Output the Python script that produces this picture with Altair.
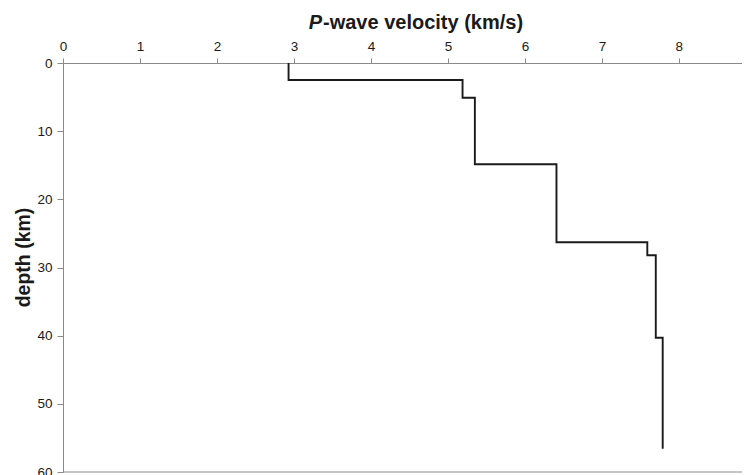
import altair as alt
import pandas as pd

# Layered P-wave velocity model (km/s) with layer top / bottom depths (km)
velocity = [2.93, 5.19, 5.35, 6.41, 7.59, 7.70, 7.79]
layer_top = [0.0, 2.5, 5.1, 14.85, 26.3, 28.2, 40.3]
layer_bottom = [2.5, 5.1, 14.85, 26.3, 28.2, 40.3, 56.6]

x_ticks = [0, 1, 2, 3, 4, 5, 6, 7, 8]
y_ticks = [0, 10, 20, 30, 40, 50, 60]

title_italic = ["P"]
title_rest = ["-wave velocity (km/s)"]

rows = []
k = 0
for v, t, b in zip(velocity, layer_top, layer_bottom):
    rows.append({"v": v, "d": t, "o": k})
    k += 1
    rows.append({"v": v, "d": b, "o": k})
    k += 1
df = pd.DataFrame(rows)

FONT = "Liberation Sans"
AX = "#8a8a8a"
TXT = "#1a1a1a"

xscale = alt.Scale(domain=[0, 8.82], nice=False, zero=False)
yscale = alt.Scale(domain=[0, 60], reverse=True, nice=False, zero=False)

line = alt.Chart(df).mark_line(color=TXT, strokeWidth=1.9).encode(
    x=alt.X(
        "v:Q",
        scale=xscale,
        axis=alt.Axis(
            orient="top", values=x_ticks, title=None, grid=False,
            labelFontSize=13.5, labelColor=TXT, labelFont=FONT, labelPadding=5,
            tickSize=5, tickColor=AX, domainColor=AX, labelFlush=False,
        ),
    ),
    y=alt.Y(
        "d:Q",
        scale=yscale,
        axis=alt.Axis(
            values=y_ticks, title="depth (km)", grid=False,
            labelFontSize=13.5, labelColor=TXT, labelFont=FONT, labelPadding=5,
            tickSize=6, tickColor=AX, domainColor=AX, labelFlush=False,
            titleFont=FONT, titleFontSize=19.5, titleFontWeight="bold", titleColor=TXT,
            titleX=-34, titleY=194, titleAngle=-90, titleAlign="center",
            titleBaseline="alphabetic",
        ),
    ),
    order="o:Q",
)

bottom_line = alt.Chart(pd.DataFrame({"d": [y_ticks[-1]]})).mark_rule(
    color=AX, strokeWidth=1
).encode(y=alt.Y("d:Q", scale=yscale))

t1 = alt.Chart(pd.DataFrame({"t": title_italic})).mark_text(
    font=FONT, fontSize=20, fontWeight="bold", fontStyle="italic",
    align="right", baseline="alphabetic", color=TXT,
).encode(x=alt.value(259), y=alt.value(-34.5), text="t:N")

t2 = alt.Chart(pd.DataFrame({"t": title_rest})).mark_text(
    font=FONT, fontSize=20, fontWeight="bold",
    align="left", baseline="alphabetic", color=TXT,
).encode(x=alt.value(260), y=alt.value(-34.5), text="t:N")

chart = alt.layer(line, bottom_line, t1, t2).properties(
    width=679, height=409,
    autosize=alt.AutoSizeParams(type="none"),
    padding={"left": 55, "top": 55, "right": 0, "bottom": 4},
).configure_view(strokeWidth=0)

chart.save("out.html", embed_options={"renderer": "svg", "actions": False})
